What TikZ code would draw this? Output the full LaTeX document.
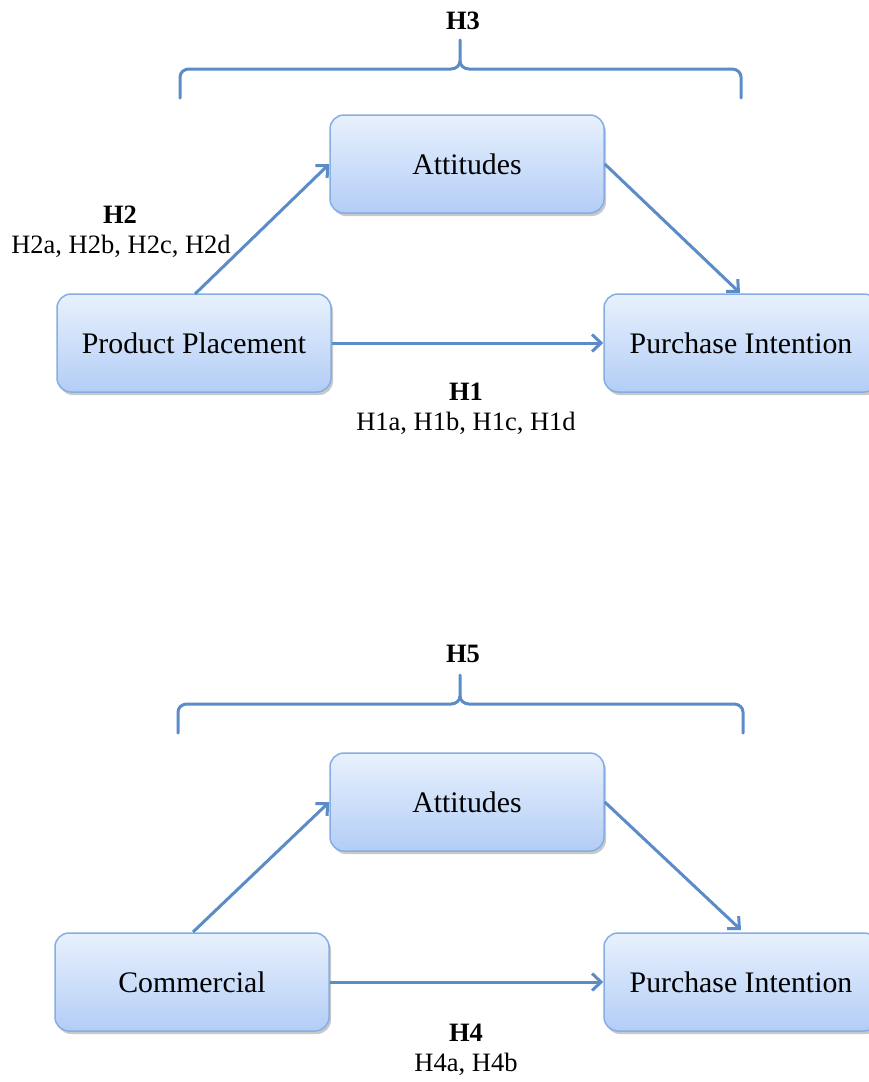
\documentclass[tikz,border=0pt]{standalone}
\usepackage{fontspec}
\setmainfont{Liberation Serif}
\usetikzlibrary{arrows.meta,shadows}
\definecolor{linec}{HTML}{5B8CC8}
\definecolor{boxtop}{HTML}{E8F1FD}
\definecolor{boxbot}{HTML}{B3CDF6}
\definecolor{boxdraw}{HTML}{86AEE3}
\tikzset{
  conbox/.style={rounded corners=14pt, draw=boxdraw, line width=1.5pt,
    top color=boxtop, bottom color=boxbot,
    drop shadow={opacity=0.35, shadow xshift=2pt, shadow yshift=-3pt, fill=black!60},
    minimum width=274pt, minimum height=98pt, inner sep=0pt,
    font=\fontsize{29.8}{34}\selectfont},
  conarrow/.style={draw=linec, line width=3pt, -{Straight Barb[length=9pt,width=17pt,line width=3pt]}},
  bracel/.style={draw=linec, line width=3pt, line cap=round},
  lbl/.style={font=\fontsize{26.5}{30}\selectfont, inner sep=0pt, align=center},
  blbl/.style={font=\fontsize{26.5}{30}\selectfont\bfseries, inner sep=0pt}
}
\begin{document}
\begin{tikzpicture}[x=1pt,y=-1pt]
\clip (0,0) rectangle (869,1082);
\fill[white] (0,0) rectangle (869,1082);
% ---------- top diagram ----------
\node[blbl] (h3) at (463,21) {H3};
\coordinate (b3l) at (180,98);
\coordinate (b3r) at (741,98);
\coordinate (b3t) at (460,40);
\draw[bracel] (b3l) -- (180,77) to[out=-90+180,in=180] (189,69) -- (451,69) to[out=0,in=-90] (460,61) -- (b3t);
\draw[bracel] (b3r) -- (741,77) to[out=90,in=0] (732,69) -- (469,69) to[out=180,in=-90] (460,61);
\node[conbox] (att1) at (467,164) {Attitudes};
\node[conbox] (pp) at (194,343) {Product Placement};
\node[conbox] (pi1) at (741,343) {Purchase Intention};
\draw[conarrow] (195,294) -- (att1.west);
\draw[conarrow] (att1.east) -- (740,293);
\draw[conarrow] (pp.east) -- (pi1.west);
\node[blbl] (h2) at (120,215) {H2};
\node[lbl] (h2s) at (121,246) {H2a, H2b, H2c, H2d};
\node[blbl] (h1) at (466,392) {H1};
\node[lbl] (h1s) at (466,423) {H1a, H1b, H1c, H1d};
% ---------- bottom diagram ----------
\node[blbl] (h5) at (463,654) {H5};
\coordinate (b5l) at (178,733);
\coordinate (b5r) at (743,733);
\coordinate (b5t) at (460,675);
\draw[bracel] (b5l) -- (178,712) to[out=90,in=180] (187,704) -- (451,704) to[out=0,in=-90] (460,696) -- (b5t);
\draw[bracel] (b5r) -- (743,712) to[out=90,in=0] (734,704) -- (469,704) to[out=180,in=-90] (460,696);
\node[conbox] (att2) at (467,802) {Attitudes};
\node[conbox] (com) at (192,982) {Commercial};
\node[conbox] (pi2) at (741,982) {Purchase Intention};
\draw[conarrow] (193,932) -- (att2.west);
\draw[conarrow] (att2.east) -- (741,930);
\draw[conarrow] (com.east) -- (pi2.west);
\node[blbl] (h4) at (466,1033) {H4};
\node[lbl] (h4s) at (466,1064) {H4a, H4b};
\end{tikzpicture}
\end{document}
